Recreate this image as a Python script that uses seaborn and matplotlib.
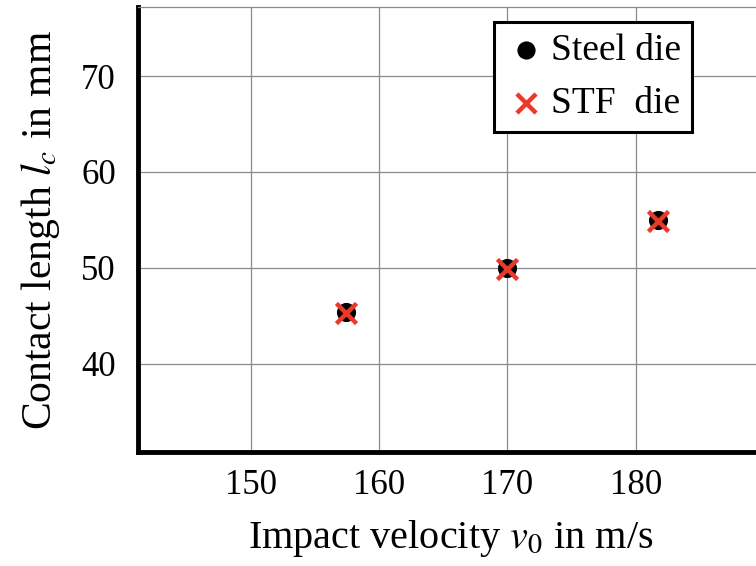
import matplotlib
matplotlib.use("Agg")
import matplotlib.pyplot as plt
import seaborn as sns
import pandas as pd

steel_v = [157.4, 170.0, 181.7]
steel_l = [45.4, 50.0, 55.0]
stf_v = [157.4, 170.0, 181.7]
stf_l = [45.3, 49.9, 54.9]
x_ticks = [150, 160, 170, 180]
y_ticks = [40, 50, 60, 70]

sns.set_theme(style="white")
plt.rcParams['font.family'] = ['Liberation Serif', 'DejaVu Serif']
plt.rcParams['mathtext.fontset'] = 'stix'
plt.rcParams['text.color'] = 'black'
plt.rcParams['axes.labelcolor'] = 'black'
plt.rcParams['xtick.color'] = 'black'
plt.rcParams['ytick.color'] = 'black'

fig = plt.figure(figsize=(7.56, 5.66), dpi=100)
ax_w_px = 756 - 138 + 8
ax = fig.add_axes([138/756, 1 - 452/566, ax_w_px/756, (452 - 7)/566])

df_steel = pd.DataFrame({"v": steel_v, "l": steel_l})
df_stf = pd.DataFrame({"v": stf_v, "l": stf_l})

sns.scatterplot(data=df_steel, x="v", y="l", ax=ax, marker="o", s=190,
                color="black", edgecolor="black", linewidth=0, label="Steel die", zorder=3)
sns.scatterplot(data=df_stf, x="v", y="l", ax=ax, marker="x", s=210,
                color="#e8392b", linewidth=3.2, label="STF  die", zorder=4)

ax.set_xlim(141.2, 190.0)
ax.set_ylim(30.8, 77.2)
ax.set_xticks(x_ticks)
ax.set_yticks(y_ticks)
ax.grid(True, color="#8a8a8a", linewidth=0.9)
ax.set_axisbelow(True)
ax.tick_params(axis="both", length=0, labelsize=25)
ax.tick_params(axis="x", pad=12)
ax.tick_params(axis="y", pad=16)

for side in ["left", "bottom"]:
    ax.spines[side].set_color("black")
    ax.spines[side].set_linewidth(3.5)
ax.spines["top"].set_color("#8a8a8a")
ax.spines["top"].set_linewidth(0.9)
ax.spines["right"].set_visible(False)

ax.set_xlabel(r"Impact velocity $\mathit{v}_0$ in m/s", fontsize=29, labelpad=12)
ax.set_ylabel(r"Contact length $\mathit{l}_c$ in mm", fontsize=30, labelpad=14)

leg = ax.legend(loc="upper right", bbox_to_anchor=((692 - 138)/ax_w_px, 1 - 15/445),
                fontsize=27, frameon=True, fancybox=False, framealpha=1,
                edgecolor="black", handletextpad=0.1, borderpad=0.3,
                labelspacing=0.5, handlelength=1.1, markerscale=0.95,
                borderaxespad=0)
leg.get_frame().set_linewidth(2.2)

fig.savefig("out.png", dpi=100)
